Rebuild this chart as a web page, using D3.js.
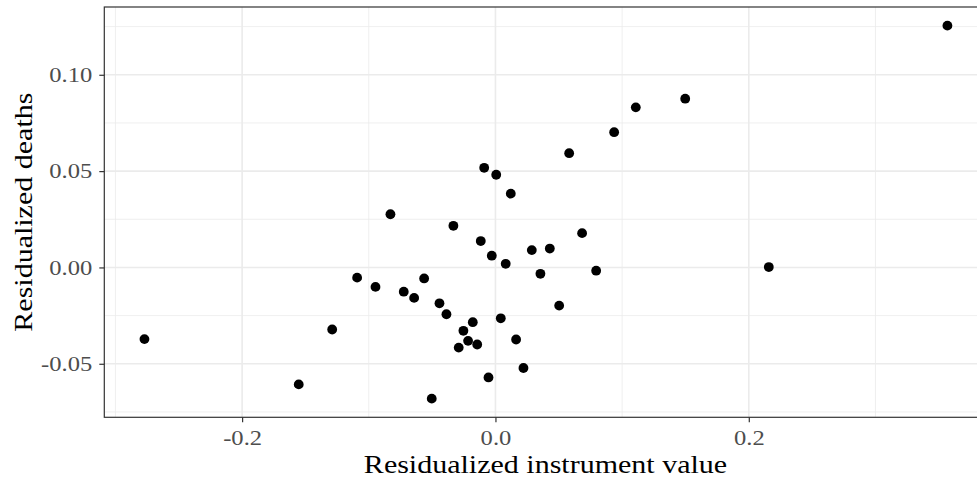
<!DOCTYPE html>
<html><head><meta charset="utf-8">
<script src="https://cdn.jsdelivr.net/npm/d3@7"></script>
<style>html,body{margin:0;padding:0;background:#fff;}svg{display:block;}</style>
</head><body>
<svg id="chart" width="977" height="481"></svg>
<script>
const xValues = [0.1108,0.0937,0.0582,-0.0089,0.0006,0.0121,-0.0829,-0.0332,0.0684,-0.0116,
  0.0287,0.0429,-0.0029,0.0081,-0.1092,-0.0563,-0.0947,0.0355,0.0795,-0.0724,
  -0.0642,-0.0442,-0.0387,0.0503,0.0042,-0.0179,-0.0253,-0.0216,-0.0290,-0.0144,
  0.0163,0.0221,-0.0055,-0.0503,-0.1289,-0.2771,-0.1553,0.3568,0.1498,0.2158];
const yValues = [0.0831,0.0702,0.0593,0.0517,0.0481,0.0383,0.0276,0.0216,0.0178,0.0137,
  0.0090,0.0098,0.0061,0.0019,-0.0053,-0.0057,-0.0101,-0.0033,-0.0017,-0.0126,
  -0.0158,-0.0186,-0.0243,-0.0198,-0.0264,-0.0284,-0.0329,-0.0381,-0.0416,-0.0400,
  -0.0374,-0.0522,-0.0571,-0.0681,-0.0322,-0.0372,-0.0607,0.1255,0.0876,0.0002];
const xTicks = [-0.2, 0.0, 0.2];
const xTickLabels = ["-0.2", "0.0", "0.2"];
const xMinor = [-0.3, -0.1, 0.1, 0.3];
const yTicks = [-0.05, 0.00, 0.05, 0.10];
const yTickLabels = ["-0.05", "0.00", "0.05", "0.10"];
const yMinor = [-0.075, -0.025, 0.025, 0.075, 0.125];
const xTitle = "Residualized instrument value";
const yTitle = "Residualized deaths";

(function(){
const svg = d3.select("#chart");
const pLeft = 104.3, pTop = 7, pBottom = 417.3;
const pxPerX = 1266.7;

const xExt = d3.extent(xValues), yExt = d3.extent(yValues);
const xPad = (xExt[1]-xExt[0])*0.05, yPad = (yExt[1]-yExt[0])*0.05;
const xDom = [xExt[0]-xPad, xExt[1]+xPad];
const yDom = [yExt[0]-yPad, yExt[1]+yPad];
const pRight = pLeft + (xDom[1]-xDom[0])*pxPerX;

const x = d3.scaleLinear().domain(xDom).range([pLeft, pRight]);
const y = d3.scaleLinear().domain(yDom).range([pBottom, pTop]);

const font = "'Liberation Serif', 'DejaVu Serif', serif";
const widen = (sel, f) => sel.each(function(){
  const len = this.getComputedTextLength();
  d3.select(this).attr("textLength", len*f).attr("lengthAdjust", "spacingAndGlyphs");
});

const g = svg.append("g");
g.append("rect").attr("x", pLeft).attr("y", pTop).attr("width", pRight-pLeft).attr("height", pBottom-pTop).attr("fill", "#fff");

g.selectAll(".xminor").data(xMinor).join("line").attr("class","xminor")
  .attr("x1", d=>x(d)).attr("x2", d=>x(d)).attr("y1", pTop).attr("y2", pBottom)
  .attr("stroke", "#ebebeb").attr("stroke-width", 0.8);
g.selectAll(".yminor").data(yMinor).join("line").attr("class","yminor")
  .attr("y1", d=>y(d)).attr("y2", d=>y(d)).attr("x1", pLeft).attr("x2", pRight)
  .attr("stroke", "#ebebeb").attr("stroke-width", 0.8);
g.selectAll(".xmajor").data(xTicks).join("line").attr("class","xmajor")
  .attr("x1", d=>x(d)).attr("x2", d=>x(d)).attr("y1", pTop).attr("y2", pBottom)
  .attr("stroke", "#ebebeb").attr("stroke-width", 1.6);
g.selectAll(".ymajor").data(yTicks).join("line").attr("class","ymajor")
  .attr("y1", d=>y(d)).attr("y2", d=>y(d)).attr("x1", pLeft).attr("x2", pRight)
  .attr("stroke", "#ebebeb").attr("stroke-width", 1.6);

g.selectAll("circle.pt").data(xValues.map((v,i)=>[v, yValues[i]])).join("circle").attr("class","pt")
  .attr("cx", d=>x(d[0])).attr("cy", d=>y(d[1])).attr("r", 4.9).attr("fill", "#000");

g.append("rect").attr("x", pLeft).attr("y", pTop).attr("width", pRight-pLeft).attr("height", pBottom-pTop)
  .attr("fill", "none").attr("stroke", "#333").attr("stroke-width", 1.2);

const xAxis = d3.axisBottom(x).tickValues(xTicks).tickFormat((d,i)=>xTickLabels[i]).tickSize(5).tickPadding(8);
const yAxis = d3.axisLeft(y).tickValues(yTicks).tickFormat((d,i)=>yTickLabels[i]).tickSize(5).tickPadding(7);
const xa = svg.append("g").attr("transform", `translate(0,${pBottom})`).call(xAxis);
const ya = svg.append("g").attr("transform", `translate(${pLeft},0)`).call(yAxis);
[xa, ya].forEach(a => {
  a.select(".domain").remove();
  a.selectAll(".tick line").attr("stroke", "#333").attr("stroke-width", 1.2);
  a.selectAll(".tick text").attr("fill", "#4d4d4d").style("font-family", font).style("font-size", "21px")
    .call(widen, 1.17);
});

svg.append("text").attr("x", 545.5).attr("y", 473).attr("text-anchor", "middle")
  .style("font-family", font).style("font-size", "25px").attr("fill", "#000").text(xTitle)
  .call(widen, 1.2);
svg.append("text").attr("transform", `translate(32,${(pTop+pBottom)/2}) rotate(-90)`).attr("text-anchor", "middle")
  .style("font-family", font).style("font-size", "25px").attr("fill", "#000").text(yTitle)
  .call(widen, 1.2);
})();
</script>
</body></html>
